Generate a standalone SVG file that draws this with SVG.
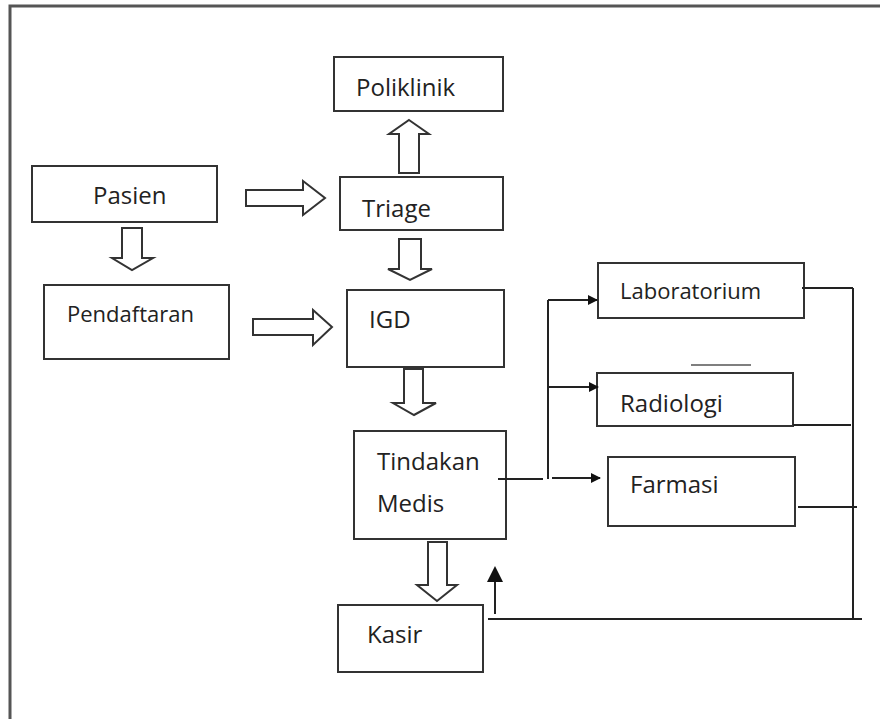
<svg xmlns="http://www.w3.org/2000/svg" width="880" height="719" viewBox="0 0 880 719">
<defs>
<style>
.box{fill:#fff;stroke:#333;stroke-width:2}
.lbl{font-family:"Open Sans","Noto Sans",sans-serif;font-size:24px;fill:#222}
.sm{font-size:22px}
.blk{fill:#fff;stroke:#333;stroke-width:2;stroke-linejoin:miter}
.ln{stroke:#222;stroke-width:2;fill:none}
</style>
<marker id="ah" markerWidth="10" markerHeight="10" refX="9" refY="5" orient="auto" markerUnits="userSpaceOnUse">
<path d="M0,0 L10,5 L0,10 Z" fill="#111"/>
</marker>
<marker id="ahu" markerWidth="16" markerHeight="16" refX="14" refY="8" orient="auto" markerUnits="userSpaceOnUse">
<path d="M0,0 L16,8 L0,16 Z" fill="#111"/>
</marker>
</defs>
<rect width="880" height="719" fill="#fff"/>
<g id="frame">
<path d="M10,719 L10,6 L880,6" fill="none" stroke="#555" stroke-width="3"/>
</g>
<g id="poliklinik"><rect class="box" x="334" y="57" width="169" height="54"/><text class="lbl" x="356" y="96">Poliklinik</text></g>
<g id="pasien"><rect class="box" x="32" y="166" width="185" height="56"/><text class="lbl" x="93" y="204">Pasien</text></g>
<g id="triage"><rect class="box" x="340" y="177" width="163" height="53"/><text class="lbl" x="362" y="217">Triage</text></g>
<g id="pendaftaran"><rect class="box" x="44" y="285" width="185" height="74"/><text class="lbl sm" x="67" y="322">Pendaftaran</text></g>
<g id="igd"><rect class="box" x="347" y="290" width="157" height="77"/><text class="lbl" x="369" y="328">IGD</text></g>
<g id="tindakan"><rect class="box" x="354" y="431" width="152" height="108"/><text class="lbl" x="377" y="470">Tindakan</text><text class="lbl" x="377" y="512">Medis</text></g>
<g id="kasir"><rect class="box" x="338" y="605" width="145" height="67"/><text class="lbl" x="367" y="643">Kasir</text></g>
<g id="laboratorium"><rect class="box" x="598" y="263" width="206" height="55"/><text class="lbl sm" x="620" y="299">Laboratorium</text></g>
<g id="radiologi"><rect class="box" x="597" y="373" width="196" height="53"/><text class="lbl" x="620" y="412">Radiologi</text></g>
<g id="farmasi"><rect class="box" x="608" y="457" width="187" height="69"/><text class="lbl" x="630" y="493">Farmasi</text></g>
<g id="connectors">
<polygon class="blk" points="409,120 429,134 419,134 419,173 399,173 399,134 389,134"/>
<polygon class="blk" points="399,239 421,239 421,269 432,269 410,280 388,269 399,269"/>
<polygon class="blk" points="404,369 423,369 423,403 436,403 414,415 393,403 404,403"/>
<polygon class="blk" points="428,542 447,542 447,585 457,585 437,601 417,585 428,585"/>
<polygon class="blk" points="122,228 142,228 142,258 153,258 132,270 112,258 122,258"/>
<polygon class="blk" points="246,190 303,190 303,181 325,198 303,215 303,206 246,206"/>
<polygon class="blk" points="253,319 313,319 313,310 332,327 313,345 313,335 253,335"/>
<line class="ln" x1="498" y1="479" x2="543" y2="479"/>
<line class="ln" x1="548" y1="300" x2="548" y2="479"/>
<line class="ln" x1="548" y1="300" x2="597" y2="300" marker-end="url(#ah)"/>
<line class="ln" x1="548" y1="387" x2="598" y2="387" marker-end="url(#ah)"/>
<line class="ln" x1="552" y1="478" x2="600" y2="478" marker-end="url(#ah)"/>
<line x1="691" y1="365" x2="751" y2="365" stroke="#555" stroke-width="1.5"/>
<line class="ln" x1="802" y1="288" x2="853" y2="288"/>
<line class="ln" x1="793" y1="425" x2="851" y2="425" stroke-width="1.5"/>
<line class="ln" x1="798" y1="507" x2="857" y2="507"/>
<line class="ln" x1="853" y1="288" x2="853" y2="619"/>
<line class="ln" x1="488" y1="619" x2="862" y2="619" stroke-width="2.5"/>
<line class="ln" x1="495" y1="614" x2="495" y2="568" marker-end="url(#ahu)"/>
</g>
</svg>
